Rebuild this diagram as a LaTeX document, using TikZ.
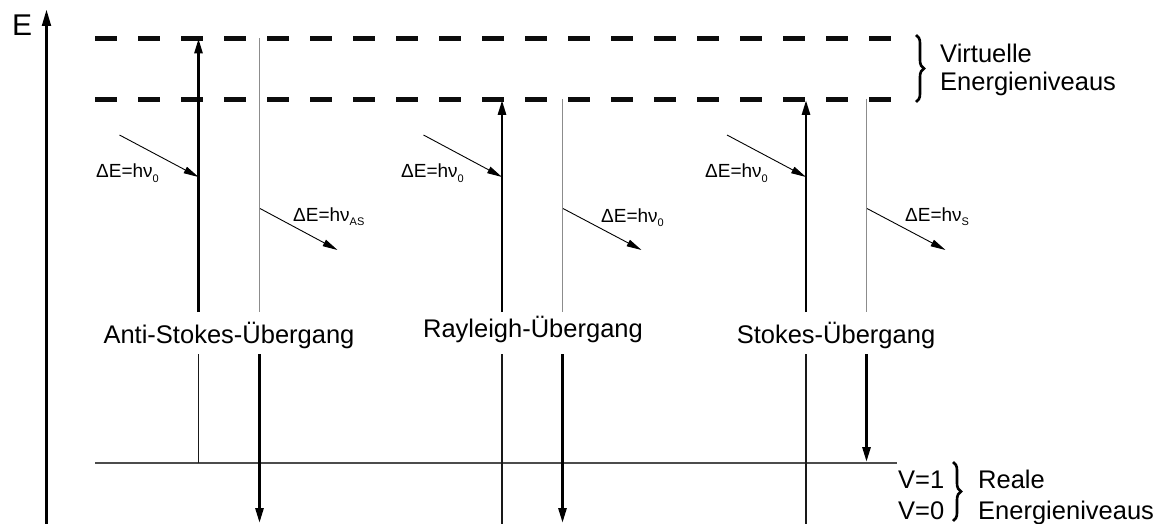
\documentclass[tikz,border=0pt]{standalone}
\usepackage{fontspec}
\setmainfont{Liberation Sans}
\usetikzlibrary{arrows.meta,decorations.pathreplacing}
\newcommand\phsub[1]{\raisebox{-4.3pt}{\fontsize{11}{11}\selectfont #1}}
\begin{document}
\begin{tikzpicture}[x=1pt,y=-1pt,
  thickarrow/.style={line width=2.8pt,-{Triangle[length=15pt,width=8pt]}},
  thinline/.style={line width=1.2pt,color=black!90},
  greyline/.style={line width=1.6pt,color=black!45},
  photon/.style={line width=0.9pt,-{Triangle[length=15pt,width=7pt]}},
  levelline/.style={line width=5pt,dash pattern=on 22pt off 21pt,color=black!95},
  groundline/.style={line width=1.5pt,color=black!70},
  axisline/.style={line width=3.2pt,-{Triangle[length=17pt,width=8.5pt]}},
  bigtext/.style={inner sep=0pt,anchor=base,font=\fontsize{25.5}{28}\selectfont},
  sidetext/.style={inner sep=0pt,anchor=base west,font=\fontsize{25.5}{28}\selectfont},
  phlabel/.style={inner sep=0pt,anchor=base west,font=\fontsize{19}{21}\selectfont},
  bracestyle/.style={line width=2.6pt,decorate,decoration={brace,amplitude=8pt}}
]
\useasboundingbox (0,0) rectangle (1162,524);

% axis
\coordinate (axB) at (46.5,524);
\coordinate (axT) at (46.5,9);
\draw[axisline] (axB) -- (axT);
\node[inner sep=0pt,anchor=base west,font=\fontsize{30}{32}\selectfont] (E) at (12,35.5) {E};

% levels
\coordinate (uL) at (95,38.5);  \coordinate (uR) at (892,38.5);
\coordinate (lL) at (95,99.5);  \coordinate (lR) at (892,99.5);
\coordinate (gL) at (95,463);   \coordinate (gR) at (897,463);
\draw[levelline] (uL) -- (uR);
\draw[levelline] (lL) -- (lR);
\draw[groundline] (gL) -- (gR);

% group 1: Anti-Stokes
\coordinate (a1b) at (198.5,463);  \coordinate (a1m) at (198.5,354);
\coordinate (a1n) at (198.5,312);  \coordinate (a1t) at (198.5,38.5);
\coordinate (b1t) at (259.5,38.5); \coordinate (b1n) at (259.5,312);
\coordinate (b1m) at (259.5,354);  \coordinate (b1b) at (259.5,523);
\draw[thinline] (a1b) -- (a1m);
\draw[thickarrow] (a1n) -- (a1t);
\draw[greyline] (b1t) -- (b1n);
\draw[thickarrow] (b1m) -- (b1b);

% group 2: Rayleigh
\coordinate (a2b) at (502,524);  \coordinate (a2m) at (502,354);
\coordinate (a2n) at (502,312);  \coordinate (a2t) at (502,100);
\coordinate (b2t) at (562.5,99); \coordinate (b2n) at (562.5,312);
\coordinate (b2m) at (562.5,354); \coordinate (b2b) at (562.5,523);
\draw[thinline] (a2b) -- (a2m);
\draw[thickarrow] (a2n) -- (a2t);
\draw[greyline] (b2t) -- (b2n);
\draw[thickarrow] (b2m) -- (b2b);

% group 3: Stokes
\coordinate (a3b) at (806,524);  \coordinate (a3m) at (806,354);
\coordinate (a3n) at (806,312);  \coordinate (a3t) at (806,100);
\coordinate (b3t) at (866.5,99); \coordinate (b3n) at (866.5,312);
\coordinate (b3m) at (866.5,354); \coordinate (b3b) at (866.5,462);
\draw[thinline] (a3b) -- (a3m);
\draw[thickarrow] (a3n) -- (a3t);
\draw[greyline] (b3t) -- (b3n);
\draw[thickarrow] (b3m) -- (b3b);

% photons
\coordinate (p1s) at (119.5,135); \coordinate (p1e) at (198.5,177);
\coordinate (q1s) at (260,208.5); \coordinate (q1e) at (337.5,250);
\coordinate (p2s) at (423.5,135); \coordinate (p2e) at (502,177);
\coordinate (q2s) at (563,208.5); \coordinate (q2e) at (641.5,250);
\coordinate (p3s) at (727,135);   \coordinate (p3e) at (806,177);
\coordinate (q3s) at (867,208.5); \coordinate (q3e) at (945.5,250);
\draw[photon] (p1s) -- (p1e);
\draw[photon] (q1s) -- (q1e);
\draw[photon] (p2s) -- (p2e);
\draw[photon] (q2s) -- (q2e);
\draw[photon] (p3s) -- (p3e);
\draw[photon] (q3s) -- (q3e);

\node[phlabel] (l1in)  at (96,178)  {ΔE=hν\phsub{0}};
\node[phlabel] (l1out) at (293,221) {ΔE=hν\phsub{AS}};
\node[phlabel] (l2in)  at (401,178) {ΔE=hν\phsub{0}};
\node[phlabel] (l2out) at (601,222) {ΔE=hν\phsub{0}};
\node[phlabel] (l3in)  at (705,178) {ΔE=hν\phsub{0}};
\node[phlabel] (l3out) at (905,221) {ΔE=hν\phsub{S}};

% transition labels
\node[bigtext] (t1) at (229,343) {Anti-Stokes-Übergang};
\node[bigtext] (t2) at (533,337) {Rayleigh-Übergang};
\node[bigtext] (t3) at (836,343) {Stokes-Übergang};

% braces
\coordinate (vbT) at (916,35);  \coordinate (vbB) at (916,102);
\draw[bracestyle] (vbT) -- (vbB);
\node[sidetext] (virt1) at (940,63) {Virtuelle};
\node[sidetext] (virt2) at (940,91) {Energieniveaus};

\node[sidetext] (v1) at (898,488) {V=1};
\node[sidetext] (v0) at (898,519) {V=0};
\coordinate (rbT) at (953,462);  \coordinate (rbB) at (953,521);
\draw[bracestyle] (rbT) -- (rbB);
\node[sidetext] (real1) at (978,488) {Reale};
\node[sidetext] (real2) at (978,519) {Energieniveaus};
\end{tikzpicture}
\end{document}
